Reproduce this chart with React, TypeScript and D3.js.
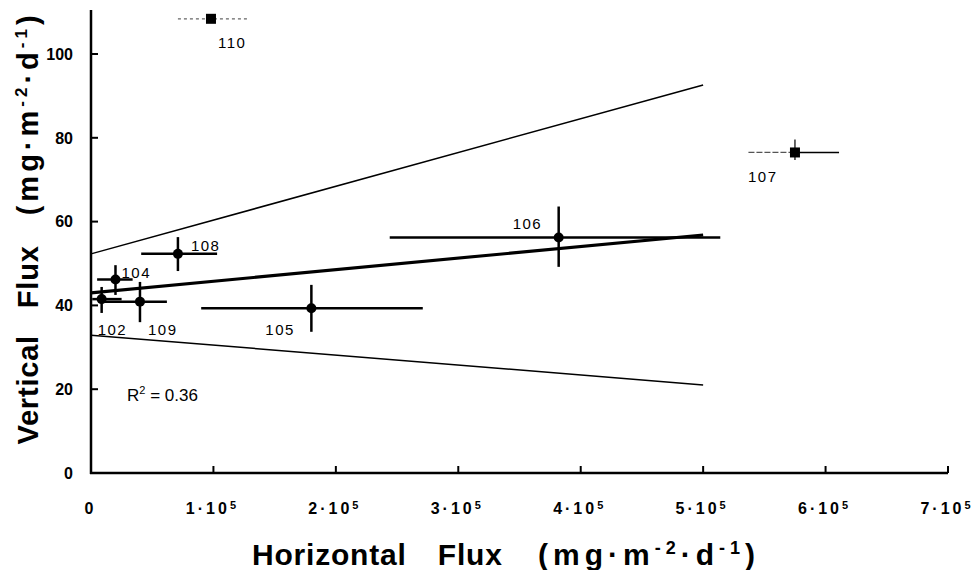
import React from "react";
import * as d3 from "d3";

// ---- data (x in units of 1e5 mg·m-2·d-1, y in mg·m-2·d-1) ----
const stationIds = ["102", "104", "108", "109", "105", "106", "107", "110"];
const horizontalFlux = [0.087, 0.2, 0.71, 0.4, 1.8, 3.82, 5.75, 0.98];
const verticalFlux = [41.5, 46.2, 52.3, 40.9, 39.3, 56.2, 76.5, 108.4];
const horizontalLow = [0.01, 0.05, 0.41, 0.1, 0.9, 2.44, 5.37, 0.71];
const horizontalHigh = [0.25, 0.34, 1.03, 0.62, 2.71, 5.14, 6.11, 1.28];
const verticalLow = [38.2, 42.5, 48.2, 36.0, 33.7, 49.2, 74.7, 108.4];
const verticalHigh = [44.4, 49.6, 56.3, 45.6, 44.9, 63.6, 79.6, 108.4];

const fitX = [0, 5];
const fitMid = [43.0, 56.8];
const fitUpper = [52.3, 92.6];
const fitLower = [32.9, 21.0];

const xTickValues = [0, 1, 2, 3, 4, 5, 6, 7];
const yTickValues = [0, 20, 40, 60, 80, 100];
const rSquared = "0.36";

// ---- layout ----
const W = 976;
const H = 570;
const x = d3.scaleLinear().domain([0, 7]).range([91, 948]);
const y = d3.scaleLinear().domain([0, 100]).range([473, 54]);
const yTop = 110.5;

const FONT = "'Liberation Sans', Arial, Helvetica, sans-serif";

const labelOffset: Record<string, [number, number]> = {
  "102": [-4, 36],
  "104": [6, -1],
  "108": [13, -3],
  "109": [8, 33],
  "105": [-46, 27],
  "106": [-46, -9],
  "107": [-47, 30],
  "110": [7, 29],
};

function Title({ main, ls, sup }: { main: string; ls: number; sup: number }) {
  return (
    <>
      <tspan>{main}</tspan>
      <tspan letterSpacing={ls}> (mg·m</tspan>
      <tspan letterSpacing={ls} fontSize={sup} dy={-11}>-2</tspan>
      <tspan letterSpacing={ls} dy={11}>·d</tspan>
      <tspan letterSpacing={ls} fontSize={sup} dy={-11}>-1</tspan>
      <tspan letterSpacing={ls} dy={11}>)</tspan>
    </>
  );
}

export default function App() {
  const line = d3
    .line<[number, number]>()
    .x((d) => x(d[0]))
    .y((d) => y(d[1]));

  const fitPath = (vals: number[]) =>
    line(fitX.map((xv, i) => [xv, vals[i]] as [number, number])) || "";

  return (
    <svg
      width={W}
      height={H}
      viewBox={`0 0 ${W} ${H}`}
      style={{ position: "absolute", left: 0, top: 0, background: "#fff" }}
      fontFamily={FONT}
    >
      <rect width={W} height={H} fill="#fff" />

      {/* axes */}
      <line x1={x(0)} x2={x(0)} y1={y(0) + 1} y2={y(yTop)} stroke="#000" strokeWidth={2.5} />
      <line x1={x(0) - 1} x2={x(7)} y1={y(0)} y2={y(0)} stroke="#000" strokeWidth={2.5} />

      {/* y ticks */}
      {yTickValues.map((v) => (
        <g key={"yt" + v}>
          {v > 0 && (
            <line x1={x(0)} x2={x(0) + 7} y1={y(v)} y2={y(v)} stroke="#000" strokeWidth={2} />
          )}
          <text
            x={73}
            y={y(v)}
            dy="0.36em"
            textAnchor="end"
            fontSize={16}
            fontWeight="bold"
          >
            {v}
          </text>
        </g>
      ))}

      {/* x ticks */}
      {xTickValues.map((v) => (
        <g key={"xt" + v}>
          {v > 0 && (
            <line x1={x(v)} x2={x(v)} y1={y(0)} y2={y(0) - 7} stroke="#000" strokeWidth={2} />
          )}
          {v === 0 ? (
            <text x={x(v) - 2} y={514} textAnchor="middle" fontSize={16} fontWeight="bold">
              0
            </text>
          ) : (
            <text
              x={x(v) - 1}
              y={514}
              textAnchor="middle"
              fontSize={16}
              fontWeight="bold"
              letterSpacing={3}
            >
              {`${v}·10`}
              <tspan fontSize={11} dy={-5}>
                5
              </tspan>
            </text>
          )}
        </g>
      ))}

      {/* regression + confidence lines */}
      <path d={fitPath(fitUpper)} fill="none" stroke="#000" strokeWidth={1.5} />
      <path d={fitPath(fitLower)} fill="none" stroke="#000" strokeWidth={1.5} />
      <path d={fitPath(fitMid)} fill="none" stroke="#000" strokeWidth={3.2} />

      {/* error bars and points */}
      {stationIds.map((id, i) => {
        const cx = x(horizontalFlux[i]);
        const cy = y(verticalFlux[i]);
        const faint = id === "110";
        const halfFaint = id === "107";
        const square = id === "107" || id === "110";
        const [dx, dy] = labelOffset[id];
        return (
          <g key={id}>
            {faint ? (
              <line
                x1={x(horizontalLow[i])}
                x2={x(horizontalHigh[i])}
                y1={cy}
                y2={cy}
                stroke="#666"
                strokeWidth={1.2}
                strokeDasharray="3 3"
              />
            ) : halfFaint ? (
              <>
                <line
                  x1={x(horizontalLow[i])}
                  x2={cx}
                  y1={cy}
                  y2={cy}
                  stroke="#555"
                  strokeWidth={1.3}
                  strokeDasharray="6 2"
                />
                <line
                  x1={cx}
                  x2={x(horizontalHigh[i])}
                  y1={cy}
                  y2={cy}
                  stroke="#000"
                  strokeWidth={1.5}
                />
              </>
            ) : (
              <line
                x1={x(horizontalLow[i])}
                x2={x(horizontalHigh[i])}
                y1={cy}
                y2={cy}
                stroke="#000"
                strokeWidth={2.5}
              />
            )}
            {verticalHigh[i] > verticalLow[i] && (
              <line
                x1={cx}
                x2={cx}
                y1={y(verticalLow[i])}
                y2={y(verticalHigh[i])}
                stroke="#000"
                strokeWidth={halfFaint ? 1.2 : 2.5}
              />
            )}
            {square ? (
              <rect x={cx - 5} y={cy - 5} width={10} height={10} fill="#000" />
            ) : (
              <circle cx={cx} cy={cy} r={5} fill="#000" />
            )}
            <text x={cx + dx} y={cy + dy} fontSize={15} letterSpacing={1.5}>
              {id}
            </text>
          </g>
        );
      })}

      {/* R² annotation */}
      <text x={127} y={401} fontSize={17}>
        R<tspan fontSize={11} dy={-7}>2</tspan>
        <tspan dy={7}> = {rSquared}</tspan>
      </text>

      {/* axis titles */}
      <text
        x={506}
        y={565}
        textAnchor="middle"
        fontSize={30}
        fontWeight="bold"
        letterSpacing={0.8}
        wordSpacing={22}
      >
        <Title main="Horizontal Flux" ls={5} sup={18} />
      </text>
      <text
        transform="translate(38,228) rotate(-90)"
        textAnchor="middle"
        fontSize={29}
        fontWeight="bold"
        letterSpacing={0.8}
        wordSpacing={18}
      >
        <Title main="Vertical Flux" ls={4} sup={17} />
      </text>
    </svg>
  );
}
